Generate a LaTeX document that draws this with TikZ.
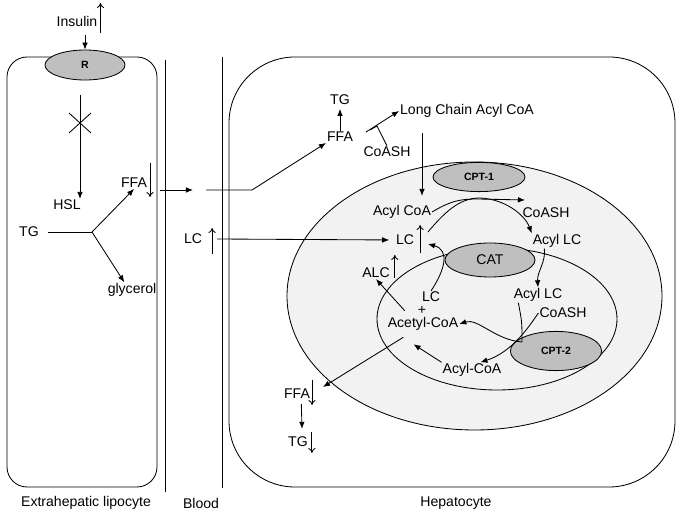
\documentclass[tikz,border=0pt]{standalone}
\usepackage{fontspec}
\setmainfont{Liberation Sans}
\usetikzlibrary{arrows.meta,shapes.geometric}

\begin{document}
\begin{tikzpicture}[x=0.025cm, y=-0.025cm, line width=0.6pt,
    txt/.style={inner sep=0.5pt, font=\fontsize{10}{12}\selectfont},
    enzyme/.style={draw, ellipse, fill=black!25, inner sep=0pt, font=\fontsize{7.5}{9}\selectfont\bfseries},
    arr/.style={-{Latex[length=5pt,width=4pt]}},
    ind/.style={-{To[length=3.5pt,width=5pt]}}]
    \useasboundingbox (0,0) rectangle (685,517);

    % cells and blood vessel
    \draw[rounded corners=0.5cm] (7,57) rectangle (157,487);
    \draw (165,60) -- (165,492);
    \draw (222,57) -- (222,488);
    \draw[rounded corners=1.65cm] (229,57) rectangle (675,487);

    % mitochondrion
    \draw[fill=black!5] (474.5,296) ellipse [x radius=187.5, y radius=134];
    \draw (497,319) ellipse [x radius=120, y radius=71];

    \node[enzyme, minimum width=2cm, minimum height=0.75cm] (R) at (85,65) {R};
    \node[enzyme, minimum width=2.3cm, minimum height=0.73cm] (cpt1) at (479,177) {CPT-1};
    \node[enzyme, minimum width=2.25cm, minimum height=0.85cm, font=\fontsize{10}{12}\selectfont] (cat) at (490,260) {CAT};
    \node[enzyme, minimum width=2.28cm, minimum height=0.98cm] (cpt2) at (556,351) {CPT-2};

    \node[txt] (insulin) at (77,21) {Insulin};
    \node[txt] (hsl) at (67,205) {HSL};
    \node[txt] (ffaL) at (134,183) {FFA};
    \node[txt] (tgL) at (29,232) {TG};
    \node[txt] (glycerol) at (132,290) {glycerol};
    \node[txt] (lcB) at (193,239) {LC};
    \node[txt] (tgH) at (340,100) {TG};
    \node[txt] (ffaH) at (340,137) {FFA};
    \node[txt] (coashA) at (387,152) {CoASH};
    \node[txt] (lcacoa) at (467,111) {Long Chain Acyl CoA};
    \node[txt] (acylcoa) at (402,212) {Acyl CoA};
    \node[txt] (coashB) at (546,213) {CoASH};
    \node[txt] (lcM) at (405,240) {LC};
    \node[txt] (acyllcA) at (557,241) {Acyl LC};
    \node[txt] (alc) at (376,273) {ALC};
    \node[txt] (lcI) at (431,297) {LC};
    \node[txt, inner sep=0pt] (plus) at (422,310.5) {+};
    \node[txt] (acetyl) at (423,324) {Acetyl-CoA};
    \node[txt] (acyllcB) at (538,295) {Acyl LC};
    \node[txt] (coashC) at (563,313) {CoASH};
    \node[txt] (acylcoaB) at (472,370) {Acyl-CoA};
    \node[txt] (ffaB) at (297,394) {FFA};
    \node[txt] (tgB) at (298,442) {TG};

    \node[txt] (lip) at (86,503) {Extrahepatic lipocyte};
    \node[txt] (blood) at (201,503) {Blood};
    \node[txt] (hep) at (456,503) {Hepatocyte};

    \coordinate (ins) at (85,35);
    \coordinate (rs) at (80,95);
    \coordinate (block) at (80,123);
    \coordinate (split) at (92,232);
    \coordinate (out1) at (160,190);
    \coordinate (in1) at (193,190);
    \coordinate (in2) at (206,190);
    \coordinate (bend) at (252,190);
    \coordinate (acs) at (366,132);
    \coordinate (hook) at (377,126);
    \coordinate (lcdown) at (422,133);
    \coordinate (c1tip) at (525,200);
    \coordinate (lcstart) at (428,232);
    \coordinate (lctip) at (428,244);
    \coordinate (p2) at (522,342);
    \coordinate (ffatip) at (323,387);

    % lipocyte
    \draw[arr] (ins) -- (R);
    \draw[arr] (rs) -- (rs |- hsl.north);
    \draw (block) +(-11,-10) -- +(11,10) (block) +(-11,10) -- +(11,-10);
    \draw (tgL.east) ++(8,0) -- (split);
    \draw[arr] (split) -- (ffaL.south);
    \draw[arr] (split) -- (glycerol.135);
    \draw[arr] (out1) -- (in1);

    % hepatocyte
    \draw[arr] (in2) -- (bend) -- (ffaH.south west);
    \draw[arr, shorten >=2pt] (ffaH) -- (tgH);
    \draw[arr] (acs) -- (lcacoa.west);
    \draw (coashA.north) -- (hook) -- ++(-7,4);
    \draw[arr, shorten >=6pt] (lcdown) -- (lcdown |- acylcoa.north);
    \draw[arr, shorten >=4pt] ([xshift=10pt]lcB.east) -- (lcM.west);
    \draw[arr] (acylcoa.east) .. controls (452,200) and (462,199) .. (478,199) -- (c1tip);
    \draw[arr] (lcstart) .. controls (448,208) and (462,198) .. (480,198) .. controls (505,199) and (525,215) .. (acyllcA.north west);
    \draw[arr] (lcI.north) .. controls (445,270) and (450,250) .. (lctip);
    \draw[arr] ([xshift=-9pt]acyllcA.south) .. controls (546,262) and (537,272) .. (acyllcB.north);
    \draw ([xshift=-14pt]acyllcB.south) .. controls (522,322) .. (p2);
    \draw[arr] (coashC.west) .. controls (528,328) and (512,352) .. ([xshift=6pt]acylcoaB.north);
    \draw[arr] (p2) .. controls (495,340) and (478,318) .. (acetyl.east);
    \draw[arr] (acylcoaB.north west) -- ++(-28,-18);
    \draw[arr] ([xshift=-13pt,yshift=4pt]acetyl.north) -- (alc.south);
    \draw[arr] ([xshift=-14pt,yshift=-4pt]acetyl.south) -- (ffatip);
    \draw[arr, shorten <=3pt, shorten >=5pt] ([xshift=3pt]ffaB.south) -- ([xshift=3pt]tgB.north);

    % up and down
    \draw[ind] (insulin.east) ++(2,12) -- ++(0,-30);
    \draw[ind] (ffaL.east) ++(2,-20) -- ++(0,34);
    \draw[ind] (lcB.east) ++(9,15) -- ++(0,-26);
    \draw[ind] (lcM.east) ++(5,13) -- ++(0,-28);
    \draw[ind] (alc.east) ++(4,5) -- ++(0,-23);
    \draw[ind] (ffaB.east) ++(1,-14) -- ++(0,25);
    \draw[ind] (tgB.east) ++(3,-10) -- ++(0,21);
\end{tikzpicture}
\end{document}
